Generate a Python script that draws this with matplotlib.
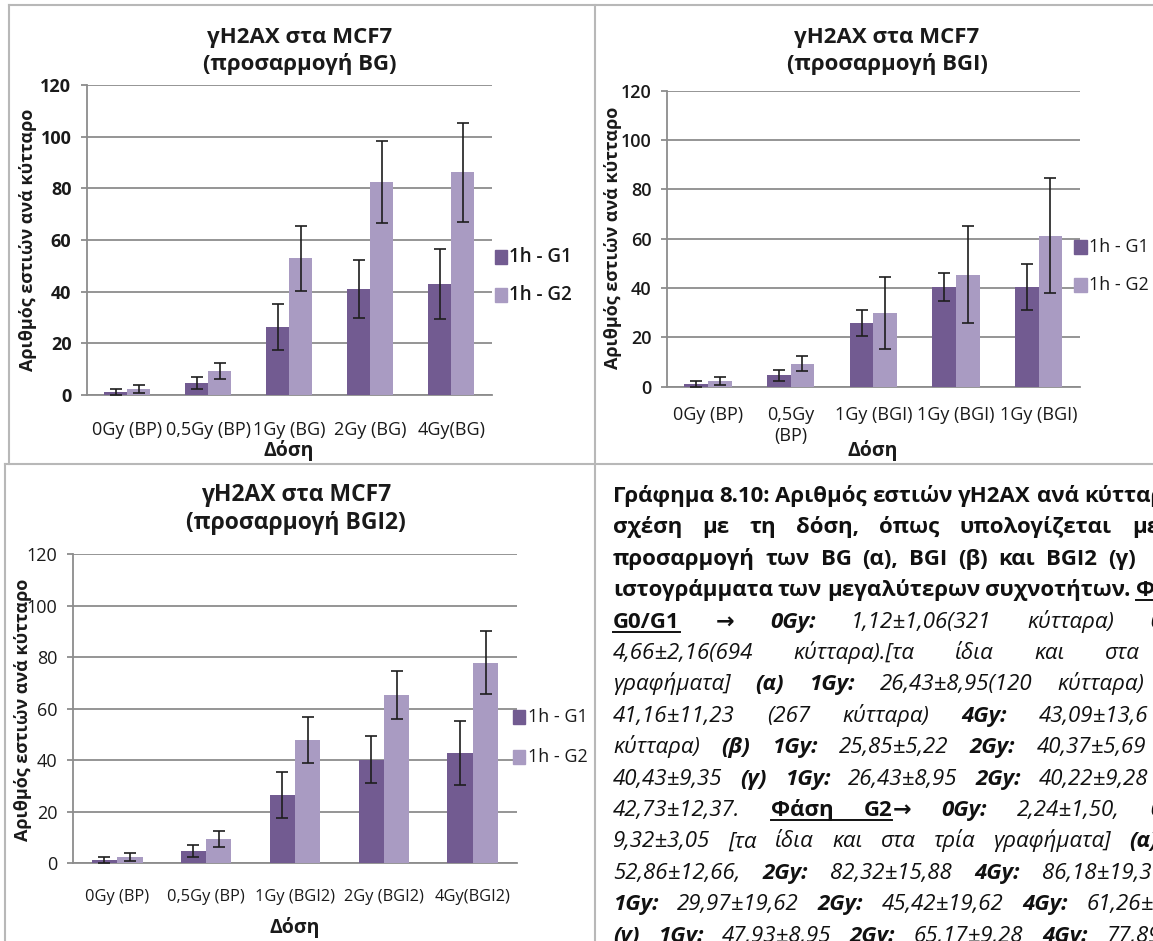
import matplotlib
matplotlib.use("Agg")
import matplotlib.pyplot as plt
from matplotlib.lines import Line2D
from matplotlib.patches import Rectangle
import numpy as np

plt.rcParams['font.family'] = ['Open Sans', 'DejaVu Sans']

W, H = 1153, 941

# ---------------- data ----------------
series_names = ["1h - G1", "1h - G2"]
y_ticks = [0, 20, 40, 60, 80, 100, 120]

cats_bg = ["0Gy (BP)", "0,5Gy (BP)", "1Gy (BG)", "2Gy (BG)", "4Gy(BG)"]
g1_bg = [1.12, 4.66, 26.43, 41.16, 43.09]
g1_bg_err = [1.06, 2.16, 8.95, 11.23, 13.60]
g2_bg = [2.24, 9.32, 52.86, 82.32, 86.18]
g2_bg_err = [1.50, 3.05, 12.66, 15.88, 19.30]

cats_bgi = ["0Gy (BP)", "0,5Gy\n(BP)", "1Gy (BGI)", "1Gy (BGI)", "1Gy (BGI)"]
g1_bgi = [1.12, 4.66, 25.85, 40.37, 40.43]
g1_bgi_err = [1.06, 2.16, 5.22, 5.69, 9.35]
g2_bgi = [2.24, 9.32, 29.97, 45.42, 61.26]
g2_bgi_err = [1.50, 3.05, 14.70, 19.62, 23.40]

cats_bgi2 = ["0Gy (BP)", "0,5Gy (BP)", "1Gy (BGI2)", "2Gy (BGI2)", "4Gy(BGI2)"]
g1_bgi2 = [1.12, 4.66, 26.43, 40.22, 42.73]
g1_bgi2_err = [1.06, 2.16, 8.95, 9.28, 12.37]
g2_bgi2 = [2.24, 9.32, 47.93, 65.17, 77.89]
g2_bgi2_err = [1.50, 3.05, 8.95, 9.28, 12.37]

C_G1 = "#725b91"
C_G2 = "#a99bc2"
GRID = "#8c8c8c"
FRAME = "#b8b8b8"
INK = "#1a1a1a"

fig = plt.figure(figsize=(W / 100, H / 100), dpi=100)
fig.patch.set_facecolor("white")


def fx(x):
    return x / W


def fy(y):
    return 1 - y / H


def ftext(x, y, s, **kw):
    return fig.text(fx(x), fy(y), s, **kw)


def panel(box, cats, g1, e1, g2, e2, title, title_xy, title_size, ylabel_xy, xlabel_xy,
          ytick_weight, xtick_size, xtick_pad, legend_cfg):
    l, t, r, b = box
    ax = fig.add_axes([fx(l), fy(b), (r - l) / W, (b - t) / H])
    x = np.arange(len(cats))
    w = 1 / 3.5
    ekw = dict(ecolor="#1e1e1e", elinewidth=1.2, capsize=4.2, capthick=1.2)
    ax.bar(x - w / 2, g1, w, color=C_G1, yerr=e1, error_kw=ekw, zorder=3)
    ax.bar(x + w / 2, g2, w, color=C_G2, yerr=e2, error_kw=ekw, zorder=3)
    ax.set_xlim(-0.5, len(cats) - 0.5)
    ax.set_ylim(0, 120)
    ax.set_yticks(y_ticks)
    ax.set_yticklabels([str(v) for v in y_ticks], fontsize=13,
                       fontweight=ytick_weight, color=INK)
    ax.set_xticks(x)
    ax.set_xticklabels(cats, fontsize=xtick_size, color=INK, linespacing=1.2)
    ax.yaxis.grid(True, color=GRID, lw=1.3, zorder=0)
    ax.set_axisbelow(True)
    for s in ("top", "right"):
        ax.spines[s].set_visible(False)
    for s in ("left", "bottom"):
        ax.spines[s].set_color(GRID)
        ax.spines[s].set_linewidth(1.3)
    ax.tick_params(axis="y", length=4, width=1.3, color=GRID, pad=7)
    ax.tick_params(axis="x", length=0, pad=xtick_pad)

    tx, ty1, ty2 = title_xy
    for line, yy in zip(title, (ty1, ty2)):
        ftext(tx, yy, line, ha="center", va="center", fontsize=title_size,
              fontweight="bold", color=INK)
    ftext(ylabel_xy[0], ylabel_xy[1], "Αριθμός εστιών ανά κύτταρο", rotation=90,
          ha="center", va="center", fontsize=13, fontweight="bold", color=INK)
    ftext(xlabel_xy[0], xlabel_xy[1], "Δόση", ha="center", va="center",
          fontsize=14, fontweight="bold", color=INK)
    sq_x, sq_w, txt_x, ys, lsize, lweight = legend_cfg
    for name, col, yy in zip(series_names, (C_G1, C_G2), ys):
        fig.patches.append(Rectangle((fx(sq_x), fy(yy + 7)), sq_w / W, 14 / H,
                                     transform=fig.transFigure, color=col))
        ftext(txt_x, yy, name, ha="left", va="center", fontsize=lsize,
              fontweight=lweight, color=INK)
    return ax


panel((86.7, 85, 491.7, 395), cats_bg, g1_bg, g1_bg_err, g2_bg, g2_bg_err,
      ("γH2AX στα MCF7", "(προσαρμογή BG)"), (300, 38, 64), 16, (28, 240), (289, 451),
      "bold", 13, 19, (495, 12, 509, (257, 295), 13.5, "semibold"))

panel((666.7, 90.7, 1080, 386.7), cats_bgi, g1_bgi, g1_bgi_err, g2_bgi, g2_bgi_err,
      ("γH2AX στα MCF7", "(προσαρμογή BGI)"), (887, 38, 64), 16, (613, 238), (873, 451),
      "semibold", 13, 14, (1074, 13, 1089, (247, 285), 13, "normal"))

panel((72.7, 554.3, 517.3, 863), cats_bgi2, g1_bgi2, g1_bgi2_err, g2_bgi2, g2_bgi2_err,
      ("γH2AX στα MCF7", "(προσαρμογή BGI2)"), (296, 495, 523), 16.5, (23, 710), (295, 927),
      "normal", 11.8, 19, (513, 12, 528, (717, 757), 13, "normal"))

# ---------------- page frame lines ----------------
def hline(y, x0, x1):
    fig.add_artist(Line2D([fx(x0), fx(x1)], [fy(y), fy(y)], transform=fig.transFigure,
                          color=FRAME, lw=1.5))


def vline(x, y0, y1):
    fig.add_artist(Line2D([fx(x), fx(x)], [fy(y0), fy(y1)], transform=fig.transFigure,
                          color=FRAME, lw=1.5))


hline(5, 9, W)
vline(9, 5, 464)
vline(595, 5, H)
hline(464, 5, W)
vline(5, 464, H)

# ---------------- caption text (justified column) ----------------
# style flags: b = bold, i = italic, u = underline, a = attached to previous token
FS = 16
LEFT = 613
caption = [
    ([("Γράφημα", "b"), ("8.10:", "b"), ("Αριθμός", "b"), ("εστιών", "b"), ("γΗ2ΑΧ", "b"),
      ("ανά", "b"), ("κύτταρο", "b")], 1084),
    ([("σχέση", "b"), ("με", "b"), ("τη", "b"), ("δόση,", "b"), ("όπως", "b"),
      ("υπολογίζεται", "b"), ("με", "b")], 1132),
    ([("προσαρμογή", "b"), ("των", "b"), ("BG", "b"), ("(α),", "b"), ("BGI", "b"), ("(β)", "b"),
      ("και", "b"), ("BGI2", "b"), ("(γ)", "b")], 1108),
    ([("ιστογράμματα", "b"), ("των", "b"), ("μεγαλύτερων", "b"), ("συχνοτήτων.", "b"),
      ("Φάση", "bu")], 1132),
    ([("G0/G1", "bu"), ("→", "b"), ("0Gy:", "bi"), ("1,12±1,06(321", "i"), ("κύτταρα)", "i"),
      ("0,5Gy:", "bi")], 1150),
    ([("4,66±2,16(694", "i"), ("κύτταρα).[τα", "i"), ("ίδια", "i"), ("και", "i"),
      ("στα", "i")], 1105),
    ([("γραφήματα]", "i"), ("(α)", "bi"), ("1Gy:", "bi"), ("26,43±8,95(120", "i"),
      ("κύτταρα)", "i")], 1057),
    ([("41,16±11,23", "i"), ("(267", "i"), ("κύτταρα)", "i"), ("4Gy:", "bi"),
      ("43,09±13,6", "i")], 1039),
    ([("κύτταρα)", "i"), ("(β)", "bi"), ("1Gy:", "bi"), ("25,85±5,22", "i"), ("2Gy:", "bi"),
      ("40,37±5,69", "i")], 1037),
    ([("40,43±9,35", "i"), ("(γ)", "bi"), ("1Gy:", "bi"), ("26,43±8,95", "i"), ("2Gy:", "bi"),
      ("40,22±9,28", "i")], 1039),
    ([("42,73±12,37.", "i"), ("Φάση", "bu"), ("G2", "bu"), ("→", "ba"), ("0Gy:", "bi"),
      ("2,24±1,50,", "i"), ("0,5Gy:", "bi")], 1150),
    ([("9,32±3,05", "i"), ("[τα", "i"), ("ίδια", "i"), ("και", "i"), ("στα", "i"), ("τρία", "i"),
      ("γραφήματα]", "i"), ("(α)", "bi")], 1129),
    ([("52,86±12,66,", "i"), ("2Gy:", "bi"), ("82,32±15,88", "i"), ("4Gy:", "bi"),
      ("86,18±19,3", "i")], 1042),
    ([("1Gy:", "bi"), ("29,97±19,62", "i"), ("2Gy:", "bi"), ("45,42±19,62", "i"), ("4Gy:", "bi"),
      ("61,26±23,4", "i")], 1087),
    ([("(γ)", "bi"), ("1Gy:", "bi"), ("47,93±8,95", "i"), ("2Gy:", "bi"), ("65,17±9,28", "i"),
      ("4Gy:", "bi"), ("77,89±12,3", "i")], 1106),
]

BASE0 = 502.0
STEP = 31.4
placed = []
for k, (tokens, last_x) in enumerate(caption):
    yb = BASE0 + STEP * k
    objs = []
    for s, st in tokens:
        t = ftext(LEFT, yb, s, ha="left", va="baseline", fontsize=FS,
                  fontweight="bold" if "b" in st else "normal",
                  fontstyle="italic" if "i" in st else "normal", color="#111111")
        objs.append((t, st))
    placed.append((objs, last_x, yb))

fig.canvas.draw()
renderer = fig.canvas.get_renderer()

for objs, last_x, yb in placed:
    widths = [t.get_window_extent(renderer).width for t, _ in objs]
    n_gaps = sum(1 for _, st in objs[1:] if "a" not in st)
    used = sum(widths[:-1])
    gap = max(5.0, (last_x - LEFT - used) / max(n_gaps, 1))
    x = LEFT
    starts = []
    for i, (t, st) in enumerate(objs):
        if i > 0:
            x += widths[i - 1] + (0 if "a" in st else gap)
        starts.append(x)
        t.set_x(fx(x))
    # underline runs of consecutive underlined tokens
    i = 0
    while i < len(objs):
        if "u" in objs[i][1]:
            j = i
            while j + 1 < len(objs) and "u" in objs[j + 1][1]:
                j += 1
            x0 = starts[i]
            x1 = min(starts[j] + widths[j], W)
            fig.add_artist(Line2D([fx(x0), fx(x1)], [fy(yb + 4), fy(yb + 4)],
                                  transform=fig.transFigure, color="#111111", lw=1.4))
            i = j + 1
        else:
            i += 1

fig.savefig("out.png", dpi=100, facecolor="white")
